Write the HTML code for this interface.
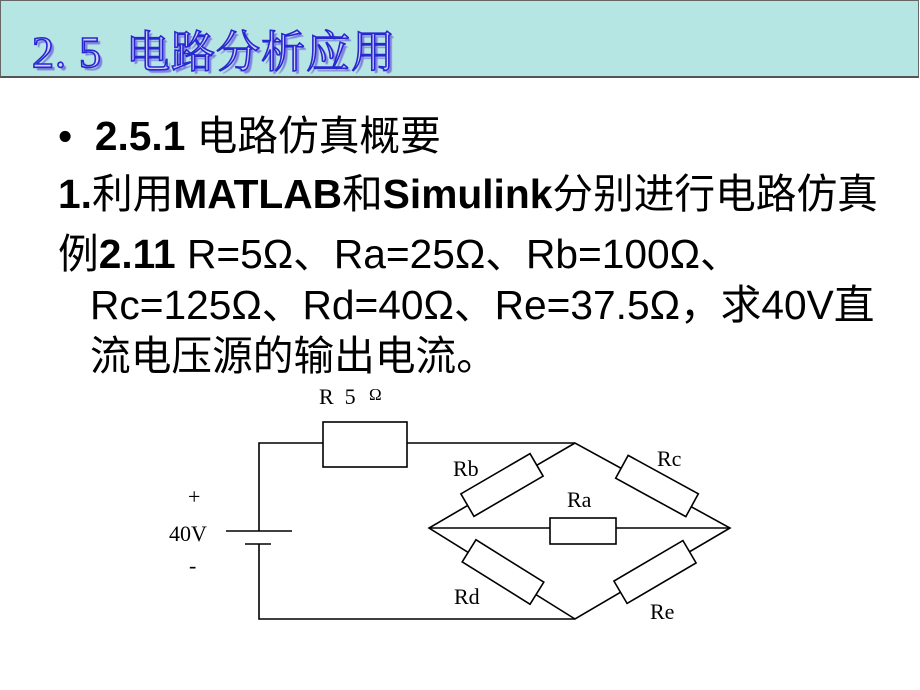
<!DOCTYPE html>
<html><head><meta charset="utf-8"><style>
body{margin:0;width:920px;height:690px;background:#fff;position:relative;overflow:hidden;font-family:"Liberation Sans","Noto Sans CJK SC",sans-serif;}
#bar{position:absolute;left:0;top:0;width:917px;height:75px;background:#b6e6e4;border:1px solid #666;border-bottom:2px solid #555;}
#title{position:absolute;left:32px;top:16px;font-family:"Liberation Serif","Noto Serif CJK SC",serif;font-size:44px;color:#d0d0ff;-webkit-text-stroke:1.6px #2828d0;text-shadow:3px 3px 1px #8080dd;white-space:nowrap;letter-spacing:1px}
.l{position:absolute;white-space:nowrap;font-size:40.7px;color:#000;line-height:1}
b{font-weight:bold}
</style></head><body>
<div id="bar"></div>
<div id="title">2.&nbsp;5&nbsp; 电路分析应用</div>
<div class="l" style="left:58px;top:116px">•&nbsp; <b>2.5.1</b> 电路仿真概要</div>
<div class="l" style="left:58px;top:174px"><b>1.</b>利用<b>MATLAB</b>和<b>Simulink</b>分别进行电路仿真</div>
<div class="l" style="left:58px;top:234px">例<b>2.11</b> R=5Ω、Ra=25Ω、Rb=100Ω、</div>
<div class="l" style="left:90px;top:285px">Rc=125Ω、Rd=40Ω、Re=37.5Ω，求40V直</div>
<div class="l" style="left:90px;top:336px">流电压源的输出电流。</div>
<svg width="920" height="690" style="position:absolute;left:0;top:0" font-family="Liberation Serif,serif" font-size="22">
<g stroke="#000" stroke-width="1.6" fill="none">
<polyline points="259,531 259,443 323,443"/>
<line x1="407" y1="443" x2="575" y2="443"/>
<rect x="323" y="422" width="84" height="45" fill="#fff"/>
<polyline points="259,544 259,619 575,619"/>
<line x1="226" y1="531" x2="292" y2="531"/>
<line x1="245" y1="544" x2="271" y2="544"/>
<polygon points="575,443 429,528 575,619 730,528"/>
<line x1="429" y1="528" x2="730" y2="528"/>
<rect x="550" y="518" width="66" height="26" fill="#fff"/>
<rect x="-40" y="-13" width="80" height="26" fill="#fff" transform="translate(502,485) rotate(-30.2)"/>
<rect x="-40" y="-13" width="80" height="26" fill="#fff" transform="translate(657,486) rotate(28.7)"/>
<rect x="-40" y="-13" width="80" height="26" fill="#fff" transform="translate(503,572) rotate(32)"/>
<rect x="-40" y="-13" width="80" height="26" fill="#fff" transform="translate(655,572) rotate(-30.4)"/>
</g>
<text x="319" y="404">R&#160;&#160;5</text><text x="369" y="400" font-size="17">Ω</text>
<text x="188" y="504">+</text>
<text x="169" y="541">40V</text>
<text x="189" y="573">-</text>
<text x="453" y="476">Rb</text>
<text x="657" y="466">Rc</text>
<text x="567" y="507">Ra</text>
<text x="454" y="604">Rd</text>
<text x="650" y="619">Re</text>
</svg>
</body></html>
